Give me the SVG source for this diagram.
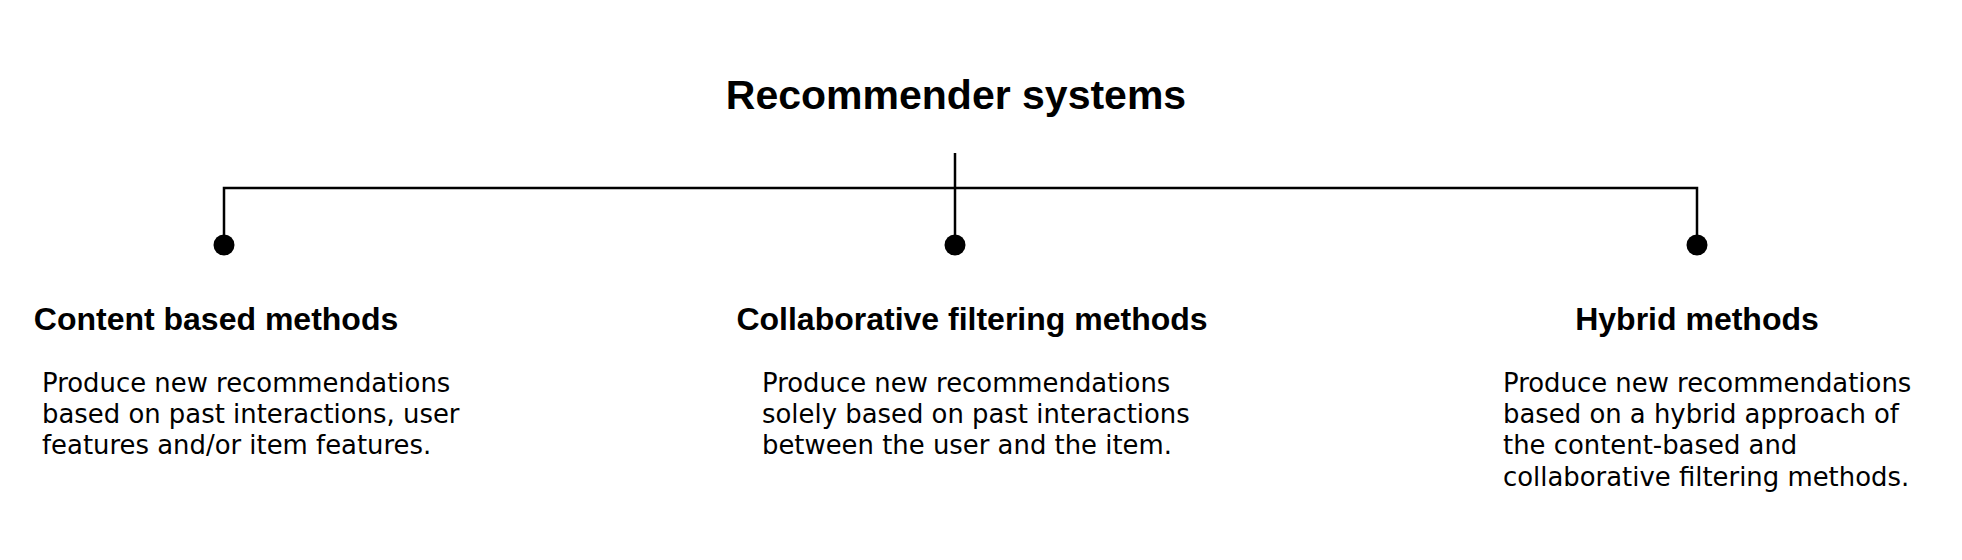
<svg xmlns="http://www.w3.org/2000/svg" width="1962" height="560" viewBox="0 0 1962 560">
<style>
.title{font-family:"Liberation Sans",Arial,sans-serif;font-weight:bold;font-size:41px;fill:#000}
.head{font-family:"Liberation Sans",Arial,sans-serif;font-weight:bold;font-size:32px;fill:#000}
.body{font-family:"DejaVu Sans",Verdana,sans-serif;font-size:25.9px;fill:#000}
.conn{fill:none;stroke:#000;stroke-width:2.5}
.dot{fill:#000}
</style>
<rect width="1962" height="560" fill="#fff"/>
<g id="connectors">
<path class="conn" d="M955,153 V245"/>
<path class="conn" d="M224,245 V188 H1697 V245"/>
</g>
<g id="root">
<text class="title" x="956" y="109" text-anchor="middle">Recommender systems</text>
</g>
<g id="content-based">
<circle class="dot" cx="224" cy="245" r="10.5"/>
<text class="head" x="216" y="330" text-anchor="middle">Content based methods</text>
<text class="body" x="42" y="392">Produce new recommendations</text>
<text class="body" x="42" y="423">based on past interactions, user</text>
<text class="body" x="42" y="454">features and/or item features.</text>
</g>
<g id="collaborative">
<circle class="dot" cx="955" cy="245" r="10.5"/>
<text class="head" x="972" y="330" text-anchor="middle">Collaborative filtering methods</text>
<text class="body" x="762" y="392">Produce new recommendations</text>
<text class="body" x="762" y="423">solely based on past interactions</text>
<text class="body" x="762" y="454">between the user and the item.</text>
</g>
<g id="hybrid">
<circle class="dot" cx="1697" cy="245" r="10.5"/>
<text class="head" x="1697" y="330" text-anchor="middle">Hybrid methods</text>
<text class="body" x="1503" y="392">Produce new recommendations</text>
<text class="body" x="1503" y="423">based on a hybrid approach of</text>
<text class="body" x="1503" y="454">the content-based and</text>
<text class="body" x="1503" y="486">collaborative filtering methods.</text>
</g>
</svg>
